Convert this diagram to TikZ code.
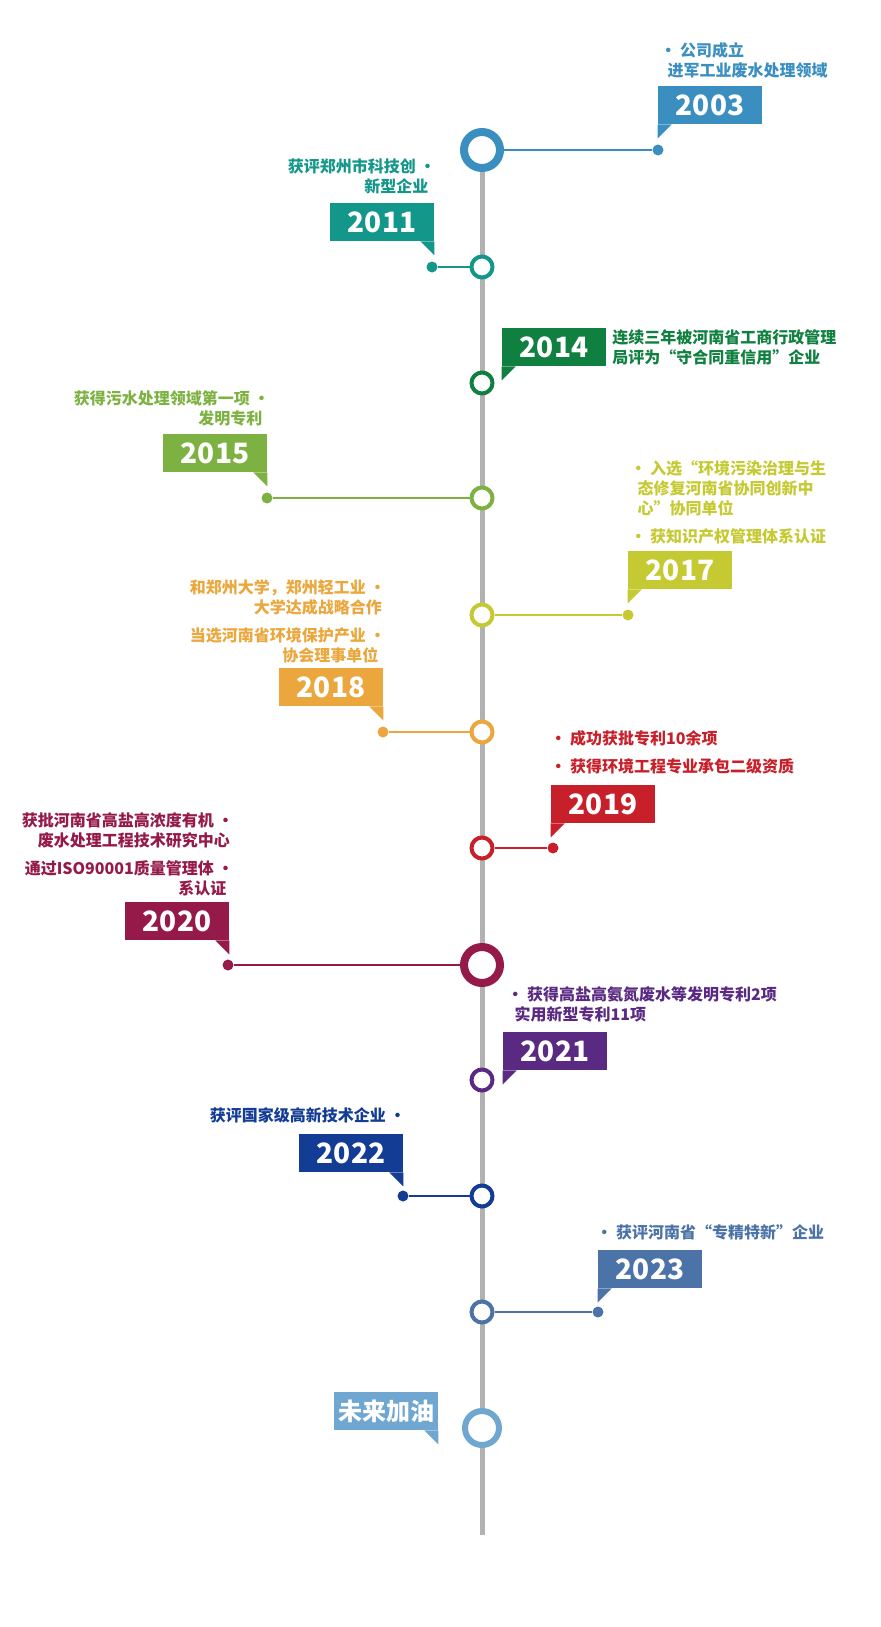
\documentclass[tikz,border=0pt]{standalone}
\usepackage{fontspec}
\setmainfont{Noto Sans CJK SC}
\definecolor{cA}{HTML}{3A8FC0}
\definecolor{cB}{HTML}{13978A}
\definecolor{cC}{HTML}{108040}
\definecolor{cD}{HTML}{7DB242}
\definecolor{cE}{HTML}{C5C932}
\definecolor{cF}{HTML}{EBA73D}
\definecolor{cG}{HTML}{C8202A}
\definecolor{cH}{HTML}{951A4A}
\definecolor{cI}{HTML}{5A2A82}
\definecolor{cJ}{HTML}{133C94}
\definecolor{cK}{HTML}{4B73A8}
\definecolor{cL}{HTML}{6FA7D0}
\tikzset{
  ring/.style={circle, draw=#1, line width=2pt, fill=white, minimum size=10.5pt, inner sep=0pt},
  bigring/.style={circle, draw=#1, line width=4pt, fill=white, minimum size=18pt, inner sep=0pt},
  dot/.style={circle, fill=#1, minimum size=5.5pt, inner sep=0pt},
  yearbox/.style={fill=#1, text=white, font=\fontsize{14}{16}\selectfont\bfseries, minimum width=52pt, minimum height=19pt, inner sep=0pt},
  note/.style={text=#1, font=\fontsize{8}{10}\selectfont\bfseries, inner sep=0pt}
}
% tail below a box, at its left or right corner
\newcommand{\tailL}[2]{\fill[#1] (#2.south west) -- ++(14,0) -- ++(-14,14) -- cycle;}
\newcommand{\tailR}[2]{\fill[#1] (#2.south east) -- ++(-14,0) -- ++(14,14) -- cycle;}
\begin{document}
\begin{tikzpicture}[x=0.5pt, y=-0.5pt]
	\useasboundingbox (0,0) rectangle (880,1627);
	\draw[line width=2.5pt, black!30] (482,130) -- (482,1535);
	
	% 2003
	\node[bigring=cA] (r2003) at (482,150) {};
	\node[dot=cA] (d2003) at (658,150) {};
	\draw[cA, line width=1.2pt] (r2003) -- (d2003);
	\node[yearbox=cA] (b2003) at (710,105) {2003};
	\tailL{cA}{b2003}
	\node[note=cA, anchor=west, align=left] (t2003) at (660,60) {• 公司成立\\\ \ 进军工业废水处理领域};
	
	% 2011
	\node[ring=cB] (r2011) at (482,267) {};
	\node[dot=cB] (d2011) at (432,267) {};
	\draw[cB, line width=1.2pt] (r2011) -- (d2011);
	\node[yearbox=cB] (b2011) at (382,222) {2011};
	\tailR{cB}{b2011}
	\node[note=cB, anchor=east, align=right] (t2011) at (436,176) {获评郑州市科技创 •\\新型企业\ \ \ };
	
	% 2014
	\node[ring=cC] (r2014) at (482,383) {};
	\node[yearbox=cC] (b2014) at (554,347) {2014};
	\tailL{cC}{b2014}
	\node[note=cC, anchor=west, align=left] (t2014) at (612,347) {连续三年被河南省工商行政管理\\局评为“守合同重信用”企业};
	
	% 2015
	\node[ring=cD] (r2015) at (482,498) {};
	\node[dot=cD] (d2015) at (267,498) {};
	\draw[cD, line width=1.2pt] (r2015) -- (d2015);
	\node[yearbox=cD] (b2015) at (215,453) {2015};
	\tailR{cD}{b2015}
	\node[note=cD, anchor=east, align=right] (t2015) at (270,408) {获得污水处理领域第一项 •\\发明专利\ \ \ };
	
	% 2017
	\node[ring=cE] (r2017) at (482,615) {};
	\node[dot=cE] (d2017) at (628,615) {};
	\draw[cE, line width=1.2pt] (r2017) -- (d2017);
	\node[yearbox=cE] (b2017) at (680,570) {2017};
	\tailL{cE}{b2017}
	\node[note=cE, anchor=north west, align=left] (t2017) at (630,460) {• 入选“环境污染治理与生\\\ \ 态修复河南省协同创新中\\\ \ 心”协同单位\\[4pt]• 获知识产权管理体系认证};
	
	% 2018
	\node[ring=cF] (r2018) at (482,732) {};
	\node[dot=cF] (d2018) at (383,732) {};
	\draw[cF, line width=1.2pt] (r2018) -- (d2018);
	\node[yearbox=cF] (b2018) at (331,687) {2018};
	\tailR{cF}{b2018}
	\node[note=cF, anchor=north east, align=right] (t2018) at (386,579) {和郑州大学，郑州轻工业 •\\大学达成战略合作\ \ \ \\[4pt]当选河南省环境保护产业 •\\协会理事单位\ \ \ };
	
	% 2019
	\node[ring=cG] (r2019) at (482,848) {};
	\node[dot=cG] (d2019) at (553,848) {};
	\draw[cG, line width=1.2pt] (r2019) -- (d2019);
	\node[yearbox=cG] (b2019) at (603,804) {2019};
	\tailL{cG}{b2019}
	\node[note=cG, anchor=north west, align=left] (t2019) at (550,730) {• 成功获批专利10余项\\[4pt]• 获得环境工程专业承包二级资质};
	
	% 2020
	\node[bigring=cH] (r2020) at (482,965) {};
	\node[dot=cH] (d2020) at (228,965) {};
	\draw[cH, line width=1.2pt] (r2020) -- (d2020);
	\node[yearbox=cH] (b2020) at (177,921) {2020};
	\tailR{cH}{b2020}
	\node[note=cH, anchor=north east, align=right] (t2020) at (234,812) {获批河南省高盐高浓度有机 •\\废水处理工程技术研究中心\ \ \ \\[4pt]通过ISO90001质量管理体 •\\系认证\ \ \ };
	
	% 2021
	\node[ring=cI] (r2021) at (482,1080) {};
	\node[yearbox=cI] (b2021) at (555,1051) {2021};
	\tailL{cI}{b2021}
	\node[note=cI, anchor=west, align=left] (t2021) at (507,1004) {• 获得高盐高氨氮废水等发明专利2项\\\ \ 实用新型专利11项};
	
	% 2022
	\node[ring=cJ] (r2022) at (482,1196) {};
	\node[dot=cJ] (d2022) at (403,1196) {};
	\draw[cJ, line width=1.2pt] (r2022) -- (d2022);
	\node[yearbox=cJ] (b2022) at (351,1153) {2022};
	\tailR{cJ}{b2022}
	\node[note=cJ, anchor=east] (t2022) at (406,1115) {获评国家级高新技术企业 •};
	
	% 2023
	\node[ring=cK] (r2023) at (482,1312) {};
	\node[dot=cK] (d2023) at (598,1312) {};
	\draw[cK, line width=1.2pt] (r2023) -- (d2023);
	\node[yearbox=cK] (b2023) at (650,1269) {2023};
	\tailL{cK}{b2023}
	\node[note=cK, anchor=west] (t2023) at (596,1232) {• 获评河南省“专精特新”企业};
	
	% future
	\node[bigring=cL, line width=3pt, minimum size=17pt] (rF) at (482,1428) {};
	\node[yearbox=cL, font=\fontsize{12}{14}\selectfont\bfseries] (bF) at (386,1411) {未来加油};
	\tailR{cL}{bF}
\end{tikzpicture}
\end{document}
